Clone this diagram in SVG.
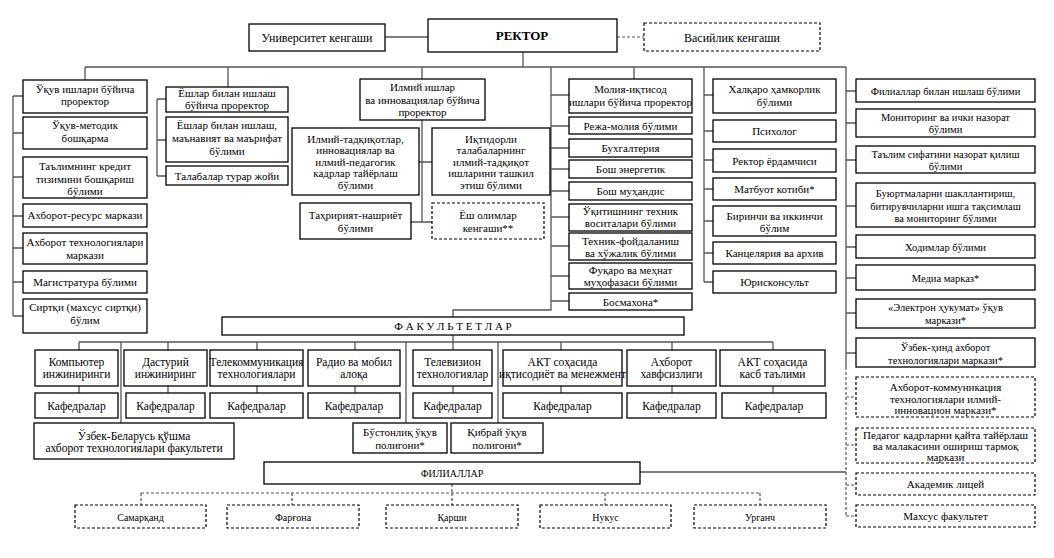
<svg xmlns="http://www.w3.org/2000/svg" width="1054" height="558" viewBox="0 0 1054 558" font-family="'Liberation Serif', 'Times New Roman', 'DejaVu Serif', serif">
<style>
.b{fill:#fff;stroke:#000;stroke-width:1.3}
.d{fill:#fff;stroke:#000;stroke-width:1.2;stroke-dasharray:3 2}
.c{fill:none;stroke:#555;stroke-width:1.3}
.cd{fill:none;stroke:#555;stroke-width:1.2;stroke-dasharray:3 2}
text{font-family:'Liberation Serif','Times New Roman','DejaVu Serif',serif;font-size:11px;text-anchor:middle;fill:#000}
.s{font-size:10.5px}
.f{font-size:11.5px}
.sm{font-size:10px}
</style>
<rect width="1054" height="558" fill="#fff"/>
<g id="connectors">
<path class="c" d="M385 37H428M523 52V67M85 67H846"/>
<path class="cd" d="M617 37H644"/>
<path class="c" d="M85 67V80M228 67V87M422 67V79M551 67V310H453V317M634 67V79M704 67V282M846 67V367"/>
<path class="c" d="M13 96V316M13 96H23M13 133H23M13 177H23M13 216H23M13 248H23M13 282H23M13 316H23"/>
<path class="c" d="M157 99V176M157 99H166M157 140H166M157 176H166"/>
<path class="c" d="M422 120V222M419 162H432M411 222H432"/>
<path class="c" d="M551 95H569M551 126H569M551 148H569M551 169H569M551 191H569M551 217H569M551 246H569M551 276H569M551 301H569"/>
<path class="c" d="M704 95H713M704 131H713M704 160H713M704 189H713M704 221H713M704 253H713M704 282H713"/>
<path class="c" d="M846 91H856M846 123H856M846 160H856M846 206H856M846 247H856M846 278H856M846 313H856M846 353H856"/>
<path class="cd" d="M846 367V516M846 397H856M846 445H856M846 485H856M846 516H856"/>
<path class="c" d="M453 335V342M79 342H773M79 342V350M168 342V350M257 342V350M355 342V350M453 342V350M561 342V350M672 342V350M773 342V350M121 342V423M406 342V423M498 342V423"/>
<path class="c" d="M79 386V393M168 386V393M257 386V393M355 386V393M453 386V393M561 386V393M672 386V393M773 386V393"/>
<path class="c" d="M640 472H846"/>
<path class="cd" d="M452 484V493M141 493H760M141 493V505M292 493V505M452 493V505M605 493V505M760 493V505"/>
</g>
<g id="univ"><rect class="b" x="249" y="24" width="136" height="27"/><text x="317" y="41.5" style="font-size:12px">Университет кенгаши</text></g>
<g id="rector"><rect class="b" x="428" y="19" width="189" height="33"/><text x="522" y="40" style="font-size:13px;font-weight:bold">РЕКТОР</text></g>
<g id="vasiylik"><rect class="d" x="644" y="23" width="176" height="28"/><text x="732" y="41.5" style="font-size:12px">Васийлик кенгаши</text></g>

<g id="n1a"><rect class="b" x="23" y="80" width="124" height="33"/><text x="85" y="92.5">Ўқув ишлари бўйича</text><text x="85" y="105">проректор</text></g>
<g id="n1b"><rect class="b" x="23" y="117" width="124" height="32"/><text x="85" y="129">Ўқув-методик</text><text x="85" y="142">бошқарма</text></g>
<g id="n1c"><rect class="b" x="23" y="157" width="124" height="41"/><text x="85" y="170">Таълимнинг кредит</text><text x="85" y="182.5">тизимини бошқариш</text><text x="85" y="195">бўлими</text></g>
<g id="n1d"><rect class="b" x="23" y="204" width="124" height="23"/><text x="85" y="218.5">Ахборот-ресурс маркази</text></g>
<g id="n1e"><rect class="b" x="23" y="233" width="124" height="31"/><text x="85" y="246">Ахборот технологиялари</text><text x="85" y="258.5">маркази</text></g>
<g id="n1f"><rect class="b" x="23" y="271" width="124" height="22"/><text x="85" y="285.5">Магистратура бўлими</text></g>
<g id="n1g"><rect class="b" x="23" y="299" width="124" height="34"/><text x="85" y="311">Сиртқи (махсус сиртқи)</text><text x="85" y="324">бўлим</text></g>

<g id="n2a"><rect class="b" x="166" y="87" width="122" height="25"/><text x="227" y="97">Ёшлар билан ишлаш</text><text x="227" y="108.5">бўйича проректор</text></g>
<g id="n2b"><rect class="b" x="166" y="117" width="122" height="45"/><text x="227" y="129">Ёшлар билан ишлаш,</text><text x="227" y="142">маънавият ва маърифат</text><text x="227" y="155">бўлими</text></g>
<g id="n2c"><rect class="b" x="166" y="166" width="122" height="19"/><text x="227" y="179.5">Талабалар турар жойи</text></g>

<g id="n3a"><rect class="b" x="360" y="79" width="125" height="41"/><text x="422.5" y="91">Илмий ишлар</text><text x="422.5" y="103.5">ва инновациялар бўйича</text><text x="422.5" y="116">проректор</text></g>
<g id="n3b"><rect class="b" x="292" y="128" width="127" height="67"/><text x="355.5" y="142.5">Илмий-тадқиқотлар,</text><text x="355.5" y="154">инновациялар ва</text><text x="355.5" y="165.5">илмий-педагогик</text><text x="355.5" y="177">кадрлар тайёрлаш</text><text x="355.5" y="188.5">бўлими</text></g>
<g id="n3c"><rect class="b" x="432" y="128" width="118" height="67"/><text x="491" y="142.5">Иқтидорли</text><text x="491" y="154">талабаларнинг</text><text x="491" y="165.5">илмий-тадқиқот</text><text x="491" y="177">ишларини ташкил</text><text x="491" y="188.5">этиш бўлими</text></g>
<g id="n3d"><rect class="b" x="300" y="203" width="111" height="36"/><text x="355.5" y="219">Таҳририят-нашриёт</text><text x="355.5" y="232">бўлими</text></g>
<g id="n3e"><rect class="d" x="432" y="203" width="112" height="36"/><text x="488" y="219">Ёш олимлар</text><text x="488" y="232">кенгаши**</text></g>

<g id="n4a"><rect class="b" x="569" y="79" width="123" height="34"/><text x="630.5" y="93">Молия-иқтисод</text><text x="630.5" y="105.5">ишлари бўйича проректор</text></g>
<g id="n4b"><rect class="b" x="569" y="117" width="123" height="17"/><text x="630.5" y="129.5">Режа-молия бўлими</text></g>
<g id="n4c"><rect class="b" x="569" y="139" width="123" height="18"/><text x="630.5" y="152">Бухгалтерия</text></g>
<g id="n4d"><rect class="b" x="569" y="160" width="123" height="18"/><text x="630.5" y="173">Бош энергетик</text></g>
<g id="n4e"><rect class="b" x="569" y="182" width="123" height="18"/><text x="630.5" y="195">Бош муҳандис</text></g>
<g id="n4f"><rect class="b" x="569" y="204" width="123" height="27"/><text x="630.5" y="215">Ўқитишнинг техник</text><text x="630.5" y="227">воситалари бўлими</text></g>
<g id="n4g"><rect class="b" x="569" y="233" width="123" height="27"/><text x="630.5" y="245">Техник-фойдаланиш</text><text x="630.5" y="257">ва хўжалик бўлими</text></g>
<g id="n4h"><rect class="b" x="569" y="263" width="123" height="26"/><text x="630.5" y="274">Фуқаро ва меҳнат</text><text x="630.5" y="286">муҳофазаси бўлими</text></g>
<g id="n4i"><rect class="b" x="569" y="293" width="123" height="17"/><text x="630.5" y="305.5">Босмахона*</text></g>

<g id="n5a"><rect class="b" x="713" y="79" width="123" height="34"/><text x="774.5" y="93">Халқаро ҳамкорлик</text><text x="774.5" y="105.5">бўлими</text></g>
<g id="n5b"><rect class="b" x="713" y="120" width="123" height="22"/><text x="774.5" y="135">Психолог</text></g>
<g id="n5c"><rect class="b" x="713" y="149" width="123" height="23"/><text x="774.5" y="164.5">Ректор ёрдамчиси</text></g>
<g id="n5d"><rect class="b" x="713" y="178" width="123" height="22"/><text x="774.5" y="193">Матбуот котиби*</text></g>
<g id="n5e"><rect class="b" x="713" y="206" width="123" height="30"/><text x="774.5" y="219.5">Биринчи ва иккинчи</text><text x="774.5" y="232">бўлим</text></g>
<g id="n5f"><rect class="b" x="713" y="242" width="123" height="22"/><text x="774.5" y="257">Канцелярия ва архив</text></g>
<g id="n5g"><rect class="b" x="713" y="271" width="123" height="22"/><text x="774.5" y="286">Юрисконсульт</text></g>

<g id="n6a"><rect class="b" x="856" y="79" width="179" height="23"/><text class="s" x="945.5" y="94.5">Филиаллар билан ишлаш бўлими</text></g>
<g id="n6b"><rect class="b" x="856" y="109" width="179" height="28"/><text class="s" x="945.5" y="121">Мониторинг ва ички назорат</text><text class="s" x="945.5" y="133">бўлими</text></g>
<g id="n6c"><rect class="b" x="856" y="146" width="179" height="27"/><text class="s" x="945.5" y="158">Таълим сифатини назорат қилиш</text><text class="s" x="945.5" y="170">бўлими</text></g>
<g id="n6d"><rect class="b" x="856" y="183" width="179" height="44"/><text class="s" x="945.5" y="197">Буюртмаларни шакллантириш,</text><text class="s" x="945.5" y="209.5">битирувчиларни ишга тақсимлаш</text><text class="s" x="945.5" y="222">ва мониторинг бўлими</text></g>
<g id="n6e"><rect class="b" x="856" y="235" width="179" height="23"/><text class="s" x="945.5" y="250.5">Ходимлар бўлими</text></g>
<g id="n6f"><rect class="b" x="856" y="265" width="179" height="25"/><text class="s" x="945.5" y="281.5">Медиа марказ*</text></g>
<g id="n6g"><rect class="b" x="856" y="299" width="179" height="29"/><text class="s" x="945.5" y="311">«Электрон ҳукумат» ўқув</text><text class="s" x="945.5" y="324">маркази*</text></g>
<g id="n6h"><rect class="b" x="856" y="338" width="179" height="29"/><text class="s" x="945.5" y="351">Ўзбек-ҳинд ахборот</text><text class="s" x="945.5" y="364">технологиялари маркази*</text></g>
<g id="n6i"><rect class="d" x="856" y="377" width="179" height="40"/><text x="945.5" y="391">Ахборот-коммуникация</text><text x="945.5" y="402.5">технологиялари илмий-</text><text x="945.5" y="414">инновацион маркази*</text></g>
<g id="n6j"><rect class="d" x="856" y="428" width="179" height="35"/><text x="945.5" y="439">Педагог кадрларни қайта тайёрлаш</text><text x="945.5" y="450">ва малакасини ошириш тармоқ</text><text x="945.5" y="461">маркази</text></g>
<g id="n6k"><rect class="d" x="856" y="473" width="179" height="22"/><text x="945.5" y="488">Академик лицей</text></g>
<g id="n6l"><rect class="d" x="856" y="505" width="179" height="22"/><text x="945.5" y="520">Махсус факультет</text></g>

<g id="fakultetlar"><rect class="b" x="222" y="317" width="462" height="18"/><text x="453" y="330">Ф А К У Л Ь Т Е Т Л А Р</text></g>

<g id="f1"><rect class="b" x="35" y="350" width="83" height="36"/><text class="f" x="76.5" y="366">Компьютер</text><text class="f" x="76.5" y="378">инжиниринги</text></g>
<g id="f2"><rect class="b" x="124" y="350" width="83" height="36"/><text class="f" x="165.5" y="366">Дастурий</text><text class="f" x="165.5" y="378">инжиниринг</text></g>
<g id="f3"><rect class="b" x="210" y="350" width="93" height="36"/><text class="f" x="256.5" y="366">Телекоммуникация</text><text class="f" x="256.5" y="378">технологиялари</text></g>
<g id="f4"><rect class="b" x="308" y="350" width="92" height="36"/><text class="f" x="354" y="366">Радио ва мобил</text><text class="f" x="354" y="378">алоқа</text></g>
<g id="f5"><rect class="b" x="413" y="350" width="79" height="36"/><text class="f" x="452.5" y="366">Телевизион</text><text class="f" x="452.5" y="378">технологиялар</text></g>
<g id="f6"><rect class="b" x="503" y="350" width="119" height="36"/><text class="f" x="562.5" y="366">АКТ соҳасида</text><text class="f" x="562.5" y="378">иқтисодиёт ва менежмент</text></g>
<g id="f7"><rect class="b" x="627" y="350" width="89" height="36"/><text class="f" x="671.5" y="366">Ахборот</text><text class="f" x="671.5" y="378">хавфсизлиги</text></g>
<g id="f8"><rect class="b" x="720" y="350" width="105" height="36"/><text class="f" x="772.5" y="366">АКТ соҳасида</text><text class="f" x="772.5" y="378">касб таълими</text></g>

<g id="k1"><rect class="b" x="35" y="393" width="83" height="25"/><text class="f" x="76.5" y="410">Кафедралар</text></g>
<g id="k2"><rect class="b" x="126" y="393" width="79" height="25"/><text class="f" x="165.5" y="410">Кафедралар</text></g>
<g id="k3"><rect class="b" x="210" y="393" width="93" height="25"/><text class="f" x="256.5" y="410">Кафедралар</text></g>
<g id="k4"><rect class="b" x="308" y="393" width="92" height="25"/><text class="f" x="354" y="410">Кафедралар</text></g>
<g id="k5"><rect class="b" x="413" y="393" width="79" height="25"/><text class="f" x="452.5" y="410">Кафедралар</text></g>
<g id="k6"><rect class="b" x="503" y="393" width="119" height="25"/><text class="f" x="562.5" y="410">Кафедралар</text></g>
<g id="k7"><rect class="b" x="627" y="393" width="89" height="25"/><text class="f" x="671.5" y="410">Кафедралар</text></g>
<g id="k8"><rect class="b" x="722" y="393" width="104" height="25"/><text class="f" x="774" y="410">Кафедралар</text></g>

<g id="uzbel"><rect class="b" x="34" y="423" width="200" height="36"/><text class="f" x="134" y="440">Ўзбек-Беларусь қўшма</text><text class="f" x="134" y="452">ахборот технологиялари факультети</text></g>
<g id="bustonliq"><rect class="b" x="353" y="423" width="94" height="30"/><text x="400" y="435.5">Бўстонлиқ ўқув</text><text x="400" y="449">полигони*</text></g>
<g id="qibray"><rect class="b" x="451" y="423" width="92" height="30"/><text x="497" y="435.5">Қибрай ўқув</text><text x="497" y="449">полигони*</text></g>

<g id="filiallar"><rect class="b" x="264" y="462" width="376" height="22"/><text class="sm" x="452" y="477">ФИЛИАЛЛАР</text></g>
<g id="b1"><rect class="d" x="75" y="505" width="131" height="23"/><text class="sm" x="140.5" y="520.5">Самарқанд</text></g>
<g id="b2"><rect class="d" x="227" y="505" width="132" height="23"/><text class="sm" x="293" y="520.5">Фарғона</text></g>
<g id="b3"><rect class="d" x="386" y="505" width="132" height="23"/><text class="sm" x="452" y="520.5">Қарши</text></g>
<g id="b4"><rect class="d" x="540" y="505" width="131" height="23"/><text class="sm" x="605.5" y="520.5">Нукус</text></g>
<g id="b5"><rect class="d" x="694" y="505" width="132" height="23"/><text class="sm" x="760" y="520.5">Урганч</text></g>
</svg>
